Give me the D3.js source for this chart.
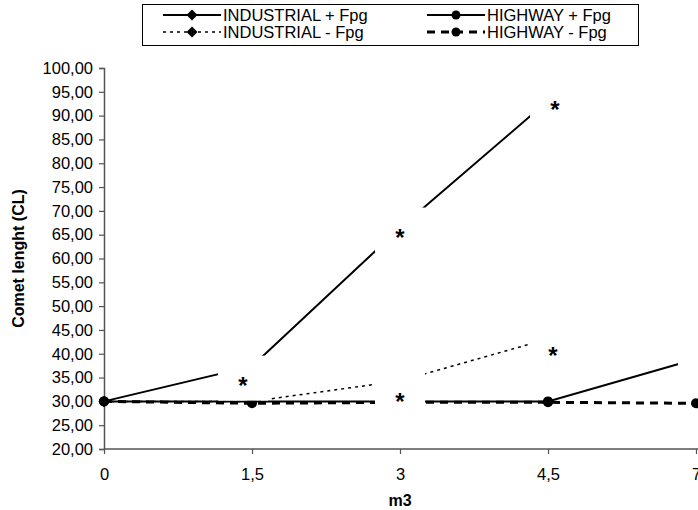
<!DOCTYPE html>
<html>
<head>
<meta charset="utf-8">
<script src="https://cdn.jsdelivr.net/npm/d3@7"></script>
<style>
  body { margin: 0; background: #ffffff; }
  text { font-family: "Liberation Sans", Arial, sans-serif; }
</style>
</head>
<body>
<div id="chart"></div>
<script>
/*********************************************************/
// Data
const categories = ["0", "1,5", "3", "4,5", "7"];
const yTicks = [20, 25, 30, 35, 40, 45, 50, 55, 60, 65, 70, 75, 80, 85, 90, 95, 100];

const industrialPlus  = [30.0, 37.4, 66.4, 93.1];
const industrialMinus = [30.0, 30.0, 34.3, 43.1];
const highwayPlus     = [30.0, 30.0, 30.0, 30.0, 38.9];
const highwayMinus    = [30.0, 29.6, 29.8, 29.8, 29.6];

// points carrying a white data label box (series name, category index, label text)
const starSeries = ["INDUSTRIAL + Fpg", "INDUSTRIAL + Fpg", "INDUSTRIAL + Fpg",
                    "INDUSTRIAL - Fpg", "INDUSTRIAL - Fpg", "HIGHWAY + Fpg"];
const starIndex  = [1, 2, 3, 2, 3, 4];
const starText   = ["*", "*", "*", "*", "*", ""];

/*********************************************************/
const svgWidth = 698;
const svgHeight = 510;

const plot = { left: 104, right: 696, top: 68, bottom: 449 };

const svg = d3
  .select("#chart")
  .append("svg")
  .attr("width", svgWidth)
  .attr("height", svgHeight);

const xScale = d3.scalePoint()
  .domain(categories)
  .range([plot.left, plot.right]);

const yScale = d3.scaleLinear()
  .domain([20, 100])
  .range([plot.bottom, plot.top]);

const series = [
  { name: "INDUSTRIAL + Fpg", values: industrialPlus,  marker: "diamond", dash: null,  width: 2 },
  { name: "HIGHWAY + Fpg",    values: highwayPlus,     marker: "circle",  dash: null,  width: 2 },
  { name: "INDUSTRIAL - Fpg", values: industrialMinus, marker: "diamond", dash: "3,4", width: 1.5 },
  { name: "HIGHWAY - Fpg",    values: highwayMinus,    marker: "circle",  dash: "8,6", width: 3 }
];

/******************** Axes **********************/
const fmt = (v) => d3.format(".2f")(v).replace(".", ",");

const leftAxis = d3.axisLeft(yScale)
  .tickValues(yTicks)
  .tickFormat(fmt)
  .tickSize(5)
  .tickPadding(6);

const yAxisG = svg.append("g")
  .attr("transform", `translate(${plot.left},0)`)
  .call(leftAxis);

yAxisG.select(".domain").attr("stroke", "#555").attr("stroke-width", 1.5);
yAxisG.selectAll(".tick line").attr("stroke", "#555").attr("stroke-width", 1.2);
yAxisG.selectAll(".tick text")
  .attr("font-size", "16.5px")
  .attr("fill", "#000");

const bottomAxis = d3.axisBottom(xScale)
  .tickSize(5)
  .tickPadding(14);

const xAxisG = svg.append("g")
  .attr("transform", `translate(0,${plot.bottom})`)
  .call(bottomAxis);

xAxisG.select(".domain").remove();
xAxisG.append("line")
  .attr("x1", plot.left)
  .attr("x2", svgWidth)
  .attr("stroke", "#555")
  .attr("stroke-width", 1.5);
xAxisG.selectAll(".tick line").attr("stroke", "#555").attr("stroke-width", 1.2);
xAxisG.selectAll(".tick text")
  .attr("font-size", "16.5px")
  .attr("fill", "#000");

// axis titles
svg.append("text")
  .text("Comet lenght (CL)")
  .attr("transform", `translate(24,${(plot.top + plot.bottom) / 2}) rotate(-90)`)
  .attr("text-anchor", "middle")
  .attr("font-size", "16px")
  .attr("font-weight", "bold");

svg.append("text")
  .text("m3")
  .attr("x", (plot.left + plot.right) / 2)
  .attr("y", 506)
  .attr("text-anchor", "middle")
  .attr("font-size", "16px")
  .attr("font-weight", "bold");

/******************** Lines and markers **********************/
const line = d3.line()
  .x((d, i) => xScale(categories[i]))
  .y((d) => yScale(d));

const diamond = "M0,-5.5L5.5,0L0,5.5L-5.5,0Z";

series.forEach((s) => {
  svg.append("path")
    .datum(s.values)
    .attr("d", line)
    .attr("fill", "none")
    .attr("stroke", "#000")
    .attr("stroke-width", s.width)
    .attr("stroke-dasharray", s.dash);
});

series.forEach((s) => {
  const g = svg.append("g");
  s.values.forEach((v, i) => {
    const cx = xScale(categories[i]);
    const cy = yScale(v);
    if (s.marker === "circle") {
      g.append("circle").attr("cx", cx).attr("cy", cy).attr("r", 5).attr("fill", "#000");
    } else {
      g.append("path").attr("d", diamond).attr("transform", `translate(${cx},${cy})`).attr("fill", "#000");
    }
  });
});

/******************** Star labels (white boxes) **********************/
// nudges of each label box from its point, in pixels
const starNudge = [[-9, 12], [0, 2], [7, 1], [0, 13], [5, 9], [7, 6]];

starSeries.forEach((name, k) => {
  const s = series.find((d) => d.name === name);
  const i = starIndex[k];
  const cx = xScale(categories[i]) + starNudge[k][0];
  const cy = yScale(s.values[i]) + starNudge[k][1];
  svg.append("rect")
    .attr("x", cx - 25)
    .attr("y", cy - 22.5)
    .attr("width", 50)
    .attr("height", 45)
    .attr("fill", "#fff");
  if (starText[k]) {
    svg.append("text")
      .text(starText[k])
      .attr("x", cx)
      .attr("y", cy + 16)
      .attr("text-anchor", "middle")
      .attr("font-size", "24px")
      .attr("font-weight", "bold");
  }
});

/******************** Legend **********************/
const legend = svg.append("g");

legend.append("rect")
  .attr("x", 142.5)
  .attr("y", 4.5)
  .attr("width", 496)
  .attr("height", 41)
  .attr("fill", "#fff")
  .attr("stroke", "#000")
  .attr("stroke-width", 1);

const legendPos = [
  { x: 163, y: 15 },
  { x: 427, y: 15 },
  { x: 163, y: 32 },
  { x: 427, y: 32 }
];

series.forEach((s, k) => {
  const p = legendPos[k];
  legend.append("line")
    .attr("x1", p.x)
    .attr("x2", p.x + 58)
    .attr("y1", p.y)
    .attr("y2", p.y)
    .attr("stroke", "#000")
    .attr("stroke-width", s.width)
    .attr("stroke-dasharray", s.dash);
  if (s.marker === "circle") {
    legend.append("circle").attr("cx", p.x + 29).attr("cy", p.y).attr("r", 4.5).attr("fill", "#000");
  } else {
    legend.append("path").attr("d", diamond).attr("transform", `translate(${p.x + 29},${p.y})`).attr("fill", "#000");
  }
  legend.append("text")
    .text(s.name)
    .attr("x", p.x + 60)
    .attr("y", p.y)
    .attr("dy", "0.35em")
    .attr("font-size", "16.5px");
});
</script>
</body>
</html>
